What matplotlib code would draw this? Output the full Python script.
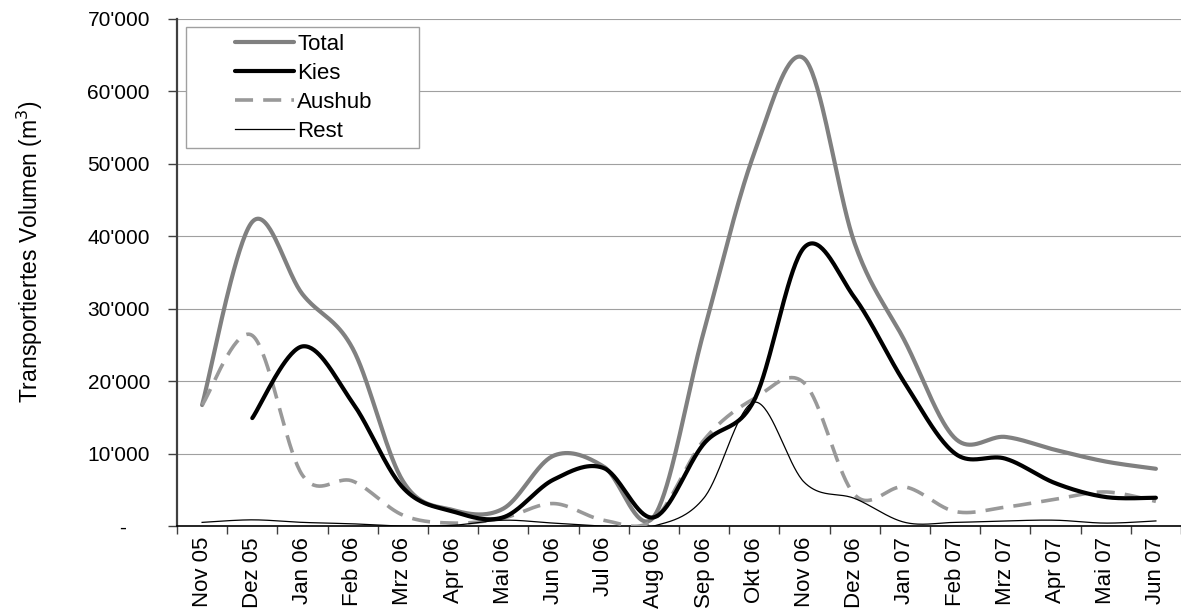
import numpy as np
import matplotlib
matplotlib.use("Agg")
import matplotlib.pyplot as plt
from matplotlib.ticker import FixedLocator, FuncFormatter
from matplotlib.legend_handler import HandlerLine2D
from matplotlib.transforms import ScaledTranslation

plt.rcParams['font.family'] = ['Liberation Sans', 'DejaVu Sans']

months = ['Nov 05', 'Dez 05', 'Jan 06', 'Feb 06', 'Mrz 06', 'Apr 06', 'Mai 06',
          'Jun 06', 'Jul 06', 'Aug 06', 'Sep 06', 'Okt 06', 'Nov 06', 'Dez 06',
          'Jan 07', 'Feb 07', 'Mrz 07', 'Apr 07', 'Mai 07', 'Jun 07']
total = [16700, 42000, 32000, 24500, 6200, 2200, 2400, 9700, 8200, 1300,
         27000, 51500, 64500, 39000, 25500, 12100, 12300, 10500, 8900, 7900]
kies = [np.nan, 14900, 24800, 17000, 5300, 2000, 1200, 6400, 8000, 1200,
        11400, 17400, 38500, 31500, 19700, 10000, 9300, 5900, 4000, 3900]
aushub = [16700, 26300, 7000, 6200, 1500, 400, 1100, 3100, 800, 900,
          11900, 17600, 19700, 4300, 5400, 2000, 2600, 3700, 4700, 3400]
rest = [500, 850, 500, 300, 0, 100, 800, 400, 0, 0,
        3900, 17100, 6000, 3800, 500, 500, 700, 800, 400, 700]
yticks = [0, 10000, 20000, 30000, 40000, 50000, 60000, 70000]


def smooth(values, n=40):
    """Excel-like smoothed line (Catmull-Rom Bezier) through the data points."""
    y = np.asarray(values, dtype=float)
    x = np.arange(len(y), dtype=float)
    ok = ~np.isnan(y)
    xs, ys = x[ok], y[ok]
    P = np.column_stack([xs, ys])
    out = []
    t = np.linspace(0, 1, n)[:, None]
    for i in range(len(P) - 1):
        pm = P[i - 1] if i > 0 else P[i]
        pp = P[i + 2] if i + 2 < len(P) else P[i + 1]
        c1 = P[i] + (P[i + 1] - pm) / 6.0
        c2 = P[i + 1] - (pp - P[i]) / 6.0
        seg = ((1 - t) ** 3) * P[i] + 3 * ((1 - t) ** 2) * t * c1 \
            + 3 * (1 - t) * t ** 2 * c2 + t ** 3 * P[i + 1]
        out.append(seg if i == 0 else seg[1:])
    s = np.vstack(out)
    return s[:, 0], s[:, 1]


class OffsetHandler(HandlerLine2D):
    def get_xdata(self, legend, xdescent, ydescent, width, height, fontsize):
        x0 = -xdescent + width * 0.42
        x1 = -xdescent + width
        xd = np.array([x0, x1])
        return xd, np.array([(x0 + x1) / 2])


W, H = 1181, 611
fig = plt.figure(figsize=(W / 100, H / 100), dpi=100)
ax_left, ax_bottom, ax_top = 177, 526, 19
ax = fig.add_axes([ax_left / W, (H - ax_bottom) / H, 1 - ax_left / W, (ax_bottom - ax_top) / H])

ax.set_ylim(0, 70000)
ax.set_xlim(-0.5, 19.38)

ax.yaxis.set_major_locator(FixedLocator(yticks))
ax.grid(axis='y', color='#a0a0a0', linewidth=0.8, zorder=0)
ax.set_axisbelow(True)

# series
xt, yt = smooth(total)
ax.plot(xt, yt, color='#808080', lw=3.0, label='Total', solid_capstyle='round', zorder=3)
xk, yk = smooth(kies)
ax.plot(xk, yk, color='black', lw=3.0, label='Kies', solid_capstyle='round', zorder=4)
xa, ya = smooth(aushub)
ax.plot(xa, ya, color='#999999', lw=2.6, label='Aushub', dashes=(5, 2.8), zorder=3)
xr, yr = smooth(rest)
ax.plot(xr, yr, color='black', lw=0.9, label='Rest', zorder=5)

# axes styling
for s in ['top', 'right']:
    ax.spines[s].set_visible(False)
ax.spines['left'].set_color('#404040')
ax.spines['left'].set_linewidth(1.6)
ax.spines['bottom'].set_color('black')
ax.spines['bottom'].set_linewidth(1.2)

# x ticks: labels at category centers, tick marks at boundaries
cats = np.arange(len(months))
ax.set_xticks(cats)
ax.set_xticklabels(months, rotation=90, fontsize=16, va='top', ha='center')
ax.set_xticks(np.arange(-0.5, len(months), 1.0), minor=True)
ax.tick_params(axis='x', which='major', length=0, pad=8)
ax.tick_params(axis='x', which='minor', length=6, width=1.0, color='#404040', direction='out')

ax.yaxis.set_major_formatter(FuncFormatter(
    lambda v, p: '-' if v == 0 else f"{int(v):,}".replace(',', "'")))
ax.tick_params(axis='y', which='major', length=6.5, width=1.0, color='#404040',
               direction='out', labelsize=15, pad=13)

ax.set_ylabel('Transportiertes Volumen (m$^3$)', fontsize=16.5)
ax.yaxis.set_label_coords((45 - ax_left) / (W - ax_left), (ax_bottom - 252) / (ax_bottom - ax_top))

fig.canvas.draw()
for tk in ax.yaxis.get_major_ticks():
    if tk.get_loc() == 0:
        lab = tk.label1
        lab.set_transform(lab.get_transform() + ScaledTranslation(-0.24, 0, fig.dpi_scale_trans))

ax_w = W - ax_left
ax_h = ax_bottom - ax_top
lx0 = (186 - ax_left) / ax_w
lx1 = (419 - ax_left) / ax_w
ly1 = (ax_bottom - 27) / ax_h
ly0 = (ax_bottom - 147) / ax_h
leg = ax.legend(loc='upper left', bbox_to_anchor=(lx0, ly0, lx1 - lx0, ly1 - ly0),
                mode='expand', borderaxespad=0, fontsize=16, frameon=True,
                fancybox=False, edgecolor='#a0a0a0', framealpha=1,
                handlelength=4.55, handletextpad=0.15, labelspacing=0.36,
                borderpad=0.3, handler_map={plt.Line2D: OffsetHandler()})
leg.get_frame().set_linewidth(1.0)

fig.savefig('out.png', dpi=100)
